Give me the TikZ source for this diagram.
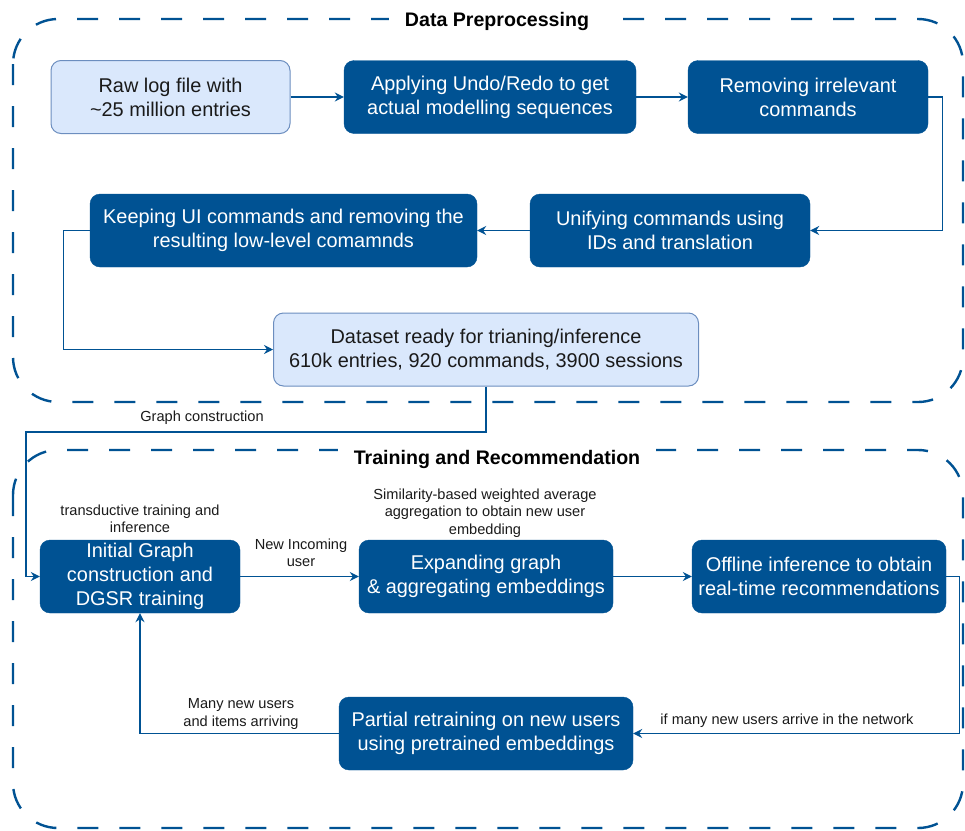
\documentclass[tikz,border=0pt]{standalone}
\usepackage{fontspec}
\setmainfont{Liberation Sans}
\usetikzlibrary{arrows.meta}

\definecolor{navy}{RGB}{0,82,147}
\definecolor{paleblue}{HTML}{DAE8FC}
\definecolor{paleedge}{HTML}{6C8EBF}
\definecolor{ink}{HTML}{1A1A1A}

\tikzset{
  stepbox/.style={rounded corners=10pt, minimum height=73pt, align=center, inner sep=0pt,
    font=\fontsize{19.9}{24}\selectfont},
  darkbox/.style={stepbox, fill=navy, draw=navy, text=white},
  lightbox/.style={stepbox, fill=paleblue, draw=paleedge, line width=1pt, text=ink},
  conn/.style={draw=navy, line width=1.2pt, -{Stealth[length=9pt,width=9pt,inset=3pt]}},
  edgelabel/.style={font=\fontsize{14.6}{17.5}\selectfont, text=ink, align=center, inner sep=0pt},
  groupframe/.style={draw=navy, line width=2.4pt, dash pattern=on 21pt off 21pt, rounded corners=45pt},
  grouptitle/.style={font=\bfseries\fontsize{19.6}{23}\selectfont, fill=white, inner xsep=16pt,
    inner ysep=2pt, text=black},
}

\begin{document}
\begin{tikzpicture}[x=1pt, y=-1pt]
\useasboundingbox (0,0) rectangle (965,830);

% group frames
\draw[groupframe] (13,19) rectangle (963,402);
\draw[groupframe] (13,450) rectangle (963,828);
\node[grouptitle] (titlepre) at (497,21) {Data Preprocessing};
\node[grouptitle] (titletrain) at (497,459) {Training and Recommendation};

% data preprocessing steps
\node[lightbox, minimum width=239pt] (raw)    at (170.5,97)  {Raw log file with\\\textasciitilde 25 million entries};
\node[darkbox,  minimum width=292pt] (undo)   at (490,97)    {Applying Undo/Redo to get\\actual modelling sequences};
\node[darkbox,  minimum width=240pt] (remove) at (808,97)    {Removing irrelevant\\commands};
\node[darkbox,  minimum width=280pt] (unify)  at (670,230.5) {Unifying commands using\\IDs and translation};
\node[darkbox,  minimum width=387pt] (keep)   at (283.5,230.5) {Keeping UI commands and removing the\\resulting low-level comamnds};
\node[lightbox, minimum width=425pt] (ready)  at (486,349.5) {Dataset ready for trianing/inference\\610k entries, 920 commands, 3900 sessions};

% training and recommendation steps
\node[darkbox, minimum width=200pt] (init)    at (140,576.5) {Initial Graph\\construction and\\DGSR training};
\node[darkbox, minimum width=254pt] (expand)  at (486,576.5) {Expanding graph\\\& aggregating embeddings};
\node[darkbox, minimum width=254pt] (offline) at (819,576.5) {Offline inference to obtain\\real-time recommendations};
\node[darkbox, minimum width=294pt] (retrain) at (486,733.5) {Partial retraining on new users\\using pretrained embeddings};

% connectors
\coordinate (gc) at (26,432);
\draw[conn] (raw.east) -- (undo.west);
\draw[conn] (undo.east) -- (remove.west);
\draw[conn] (remove.east) -- ++(14,0) |- (unify.east);
\draw[conn] (unify.west) -- (keep.east);
\draw[conn] (keep.west) -- ++(-26,0) |- (ready.west);
\draw[conn] (ready.south) |- (gc) |- (init.west);
\draw[conn] (init.east) -- (expand.west);
\draw[conn] (expand.east) -- (offline.west);
\draw[conn] (offline.east) -- ++(13,0) |- (retrain.east);
\draw[conn] (retrain.west) -| (init.south);

% connector labels
\node[edgelabel] (lgraph)   at (202,418) {Graph construction};
\node[edgelabel] (ltrans)   at (140,519) {transductive training and\\inference};
\node[edgelabel] (lnewuser) at (301,553) {New Incoming\\user};
\node[edgelabel] (lsim)     at (485,513) {Similarity-based weighted average\\aggregation to obtain new user\\embedding};
\node[edgelabel] (lmany)    at (787,721) {if many new users arrive in the network};
\node[edgelabel] (litems)   at (241,714) {Many new users\\and items arriving};
\end{tikzpicture}
\end{document}
